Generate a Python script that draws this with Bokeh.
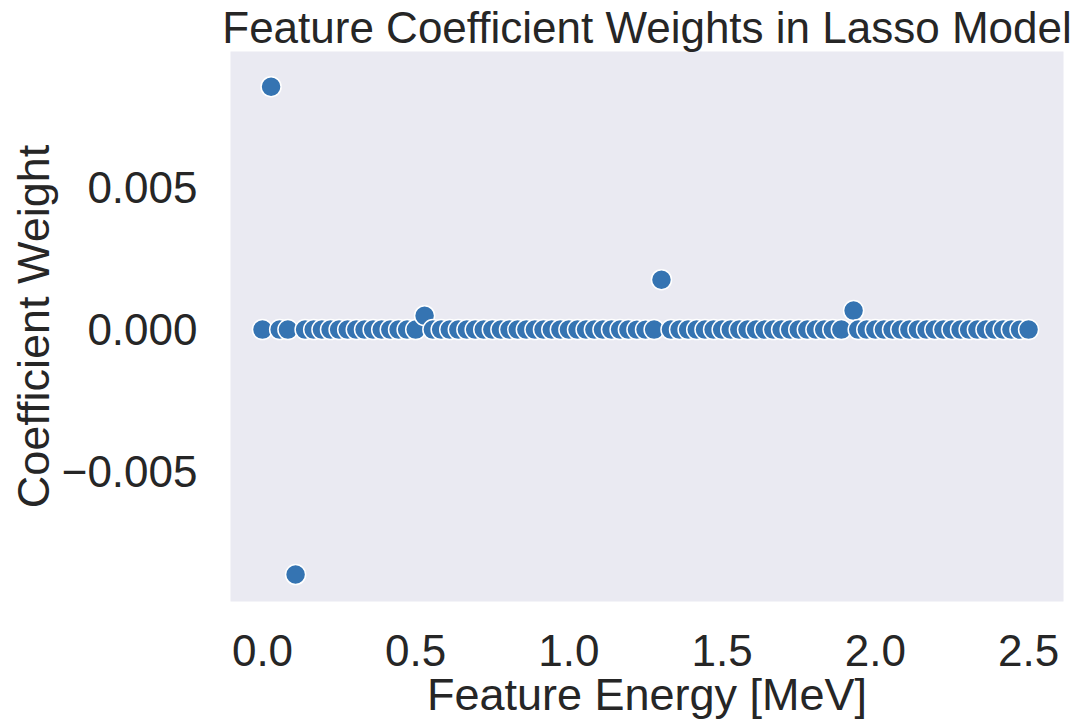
from bokeh.plotting import figure
from bokeh.models import ColumnDataSource, Range1d, FixedTicker
from bokeh.embed import file_html
from bokeh.resources import INLINE

energy = [0.000, 0.028, 0.056, 0.083, 0.108, 0.139, 0.167, 0.194, 0.222, 0.250,
          0.278, 0.306, 0.333, 0.361, 0.389, 0.417, 0.444, 0.472, 0.500, 0.529,
          0.556, 0.583, 0.611, 0.639, 0.667, 0.694, 0.722, 0.750, 0.778, 0.806,
          0.833, 0.861, 0.889, 0.917, 0.944, 0.972, 1.000, 1.028, 1.056, 1.083,
          1.111, 1.139, 1.167, 1.194, 1.222, 1.250, 1.278, 1.302, 1.333, 1.361,
          1.389, 1.417, 1.444, 1.472, 1.500, 1.528, 1.556, 1.583, 1.611, 1.639,
          1.667, 1.694, 1.722, 1.750, 1.778, 1.806, 1.833, 1.861, 1.889, 1.929,
          1.944, 1.972, 2.000, 2.028, 2.056, 2.083, 2.111, 2.139, 2.167, 2.194,
          2.222, 2.250, 2.278, 2.306, 2.333, 2.361, 2.389, 2.417, 2.444, 2.472,
          2.500]
weight = [0.0, 0.00856, 0.0, 0.0, -0.00863, 0.0, 0.0, 0.0, 0.0, 0.0,
          0.0, 0.0, 0.0, 0.0, 0.0, 0.0, 0.0, 0.0, 0.0, 0.00049,
          0.0, 0.0, 0.0, 0.0, 0.0, 0.0, 0.0, 0.0, 0.0, 0.0,
          0.0, 0.0, 0.0, 0.0, 0.0, 0.0, 0.0, 0.0, 0.0, 0.0,
          0.0, 0.0, 0.0, 0.0, 0.0, 0.0, 0.0, 0.00176, 0.0, 0.0,
          0.0, 0.0, 0.0, 0.0, 0.0, 0.0, 0.0, 0.0, 0.0, 0.0,
          0.0, 0.0, 0.0, 0.0, 0.0, 0.0, 0.0, 0.0, 0.0, 0.00067,
          0.0, 0.0, 0.0, 0.0, 0.0, 0.0, 0.0, 0.0, 0.0, 0.0,
          0.0, 0.0, 0.0, 0.0, 0.0, 0.0, 0.0, 0.0, 0.0, 0.0,
          0.0]
x_ticks = [0.0, 0.5, 1.0, 1.5, 2.0, 2.5]
x_tick_labels = ["0.0", "0.5", "1.0", "1.5", "2.0", "2.5"]
y_ticks = [-0.005, 0.0, 0.005]
y_tick_labels = ["\u22120.005", "0.000", "0.005"]

FONT = "Liberation Sans"
TXT = "#262626"

src = ColumnDataSource(data=dict(x=energy, y=weight))

p = figure(width=1084, height=722, output_backend="svg", toolbar_location=None,
           x_range=Range1d(-0.1044, 2.614), y_range=Range1d(-0.00958, 0.0098),
           min_border_left=230, min_border_right=21, min_border_top=0,
           min_border_bottom=0)

p.background_fill_color = "#EAEAF2"
p.border_fill_color = "white"
p.outline_line_color = None
p.xgrid.visible = False
p.ygrid.visible = False

p.scatter("x", "y", source=src, size=20, fill_color="#3574B2",
          line_color="white", line_width=1.5)

p.title.text = "Feature Coefficient Weights in Lasso Model"
p.title.align = "center"
p.title.text_font = FONT
p.title.text_font_size = "44px"
p.title.text_font_style = "normal"
p.title.text_color = TXT
p.title.offset = 0
p.title.standoff = 0

for ax in (p.xaxis[0], p.yaxis[0]):
    ax.axis_line_color = None
    ax.major_tick_line_color = None
    ax.minor_tick_line_color = None
    ax.major_tick_out = 0
    ax.major_tick_in = 0
    ax.minor_tick_out = 0
    ax.major_label_text_font = FONT
    ax.major_label_text_font_size = "44px"
    ax.major_label_text_color = TXT
    ax.axis_label_text_font = FONT
    ax.axis_label_text_font_size = "45px"
    ax.axis_label_text_font_style = "normal"
    ax.axis_label_text_color = TXT

p.xaxis.ticker = FixedTicker(ticks=x_ticks)
p.xaxis.major_label_overrides = dict(zip(x_ticks, x_tick_labels))
p.yaxis.ticker = FixedTicker(ticks=y_ticks)
p.yaxis.major_label_overrides = dict(zip(y_ticks, y_tick_labels))
p.xaxis.axis_label = "Feature Energy [MeV]"
p.yaxis.axis_label = "Coefficient Weight"
p.xaxis.major_label_standoff = 33
p.yaxis.major_label_standoff = 33
p.xaxis.axis_label_standoff = 0
p.yaxis.axis_label_standoff = 0

open("out.html", "w").write(file_html(p, INLINE))
